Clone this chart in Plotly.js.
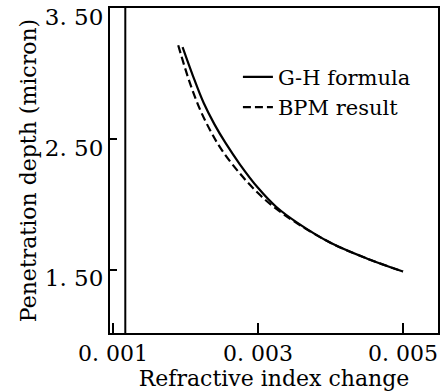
<!DOCTYPE html>
<html>
<head>
<meta charset="utf-8">
<script src="https://cdn.plot.ly/plotly-3.0.1.min.js"></script>
<style>html,body{margin:0;padding:0;background:#fff;}#chart{width:443px;height:392px;}</style>
</head>
<body>
<div id="chart"></div>
<script>
// Data
const ghX = [0.00196, 0.00210, 0.00225, 0.00240, 0.00255, 0.00275, 0.00300, 0.00325, 0.00355, 0.00400, 0.00450, 0.00500];
const ghY = [3.205, 2.99, 2.78, 2.615, 2.475, 2.31, 2.13, 1.985, 1.86, 1.71, 1.59, 1.49];
const bpmX = [0.00190, 0.00205, 0.00220, 0.00235, 0.00250, 0.00275, 0.00300, 0.00325, 0.00355, 0.00400, 0.00450, 0.00500];
const bpmY = [3.22, 2.95, 2.73, 2.56, 2.42, 2.24, 2.09, 1.97, 1.855, 1.71, 1.59, 1.49];
const xTickVals = [0.001, 0.003, 0.005];
const xTickText = ["0. 001", "0. 003", "0. 005"];
const yTickVals = [1.5, 2.5, 3.5];
const yTickText = ["1. 50", "2. 50", "3. 50"];
const refLineX = [0.00117];
const seriesNames = ["G-H formula", "BPM result"];

const font = "DejaVu Serif, Liberation Serif, serif";

const traces = [
  {x: ghX, y: ghY, type: "scatter", mode: "lines", name: seriesNames[0],
   line: {color: "#000", width: 2.2, shape: "spline", smoothing: 1, dash: "solid"}},
  {x: bpmX, y: bpmY, type: "scatter", mode: "lines", name: seriesNames[1],
   line: {color: "#000", width: 2.2, shape: "spline", smoothing: 1, dash: "8px,4px"}}
];

const layout = {
  width: 443, height: 392,
  margin: {l: 110, r: 5, t: 8, b: 59},
  paper_bgcolor: "#fff", plot_bgcolor: "#fff",
  font: {family: font, color: "#000", size: 20},
  showlegend: true,
  legend: {x: 0.39, y: 0.85, xanchor: "left", yanchor: "top",
           bgcolor: "rgba(0,0,0,0)", font: {family: font, size: 21, color: "#000"},
           itemwidth: 30, tracegroupgap: 0},
  xaxis: {range: [0.000959, 0.005483], tickvals: xTickVals, ticktext: xTickText,
          ticks: "inside", ticklen: 10, tickwidth: 2, tickcolor: "#000",
          showline: true, linewidth: 2, linecolor: "#000", mirror: true,
          showgrid: false, zeroline: false,
          tickfont: {family: font, size: 22, color: "#000"},
          title: {text: "Refractive index change", font: {family: font, size: 22, color: "#000"}, standoff: 2}},
  yaxis: {range: [1.02, 3.505], tickvals: yTickVals, ticktext: yTickText,
          ticks: "inside", ticklen: 7, tickwidth: 2, tickcolor: "#000",
          showline: true, linewidth: 2, linecolor: "#000", mirror: true,
          showgrid: false, zeroline: false, ticklabelshift: 8, ticklabeloverflow: "allow",
          tickfont: {family: font, size: 23, color: "#000"},
          title: {text: "Penetration depth (micron)", font: {family: font, size: 22, color: "#000"}, standoff: 2}},
  shapes: refLineX.map(v => ({type: "line", xref: "x", yref: "paper", x0: v, x1: v, y0: 0, y1: 1,
                             line: {color: "#000", width: 2}}))
};

Plotly.newPlot("chart", traces, layout, {staticPlot: true, displayModeBar: false});
</script>
</body>
</html>
